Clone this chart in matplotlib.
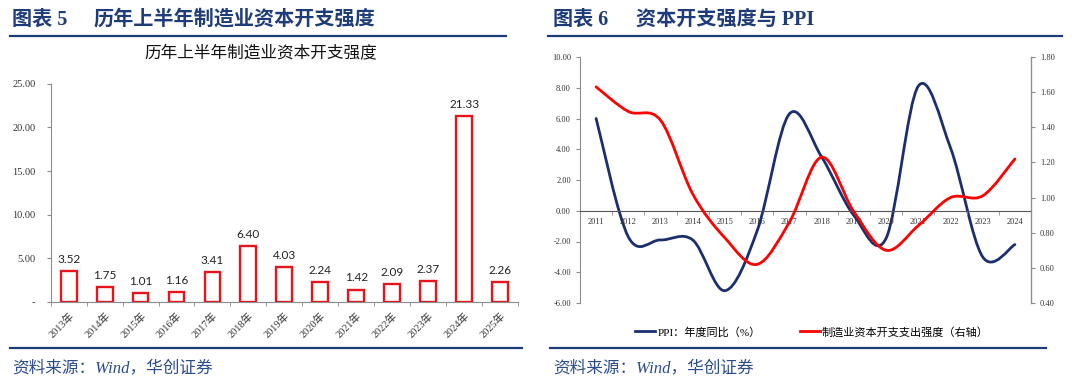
import numpy as np
import matplotlib.pyplot as plt
from matplotlib.path import Path
from matplotlib.patches import PathPatch
from matplotlib.lines import Line2D

plt.rcParams['font.family'] = ['Liberation Serif', 'Noto Sans CJK SC']

# left chart data
bar_years = ['2013年', '2014年', '2015年', '2016年', '2017年', '2018年', '2019年',
             '2020年', '2021年', '2022年', '2023年', '2024年', '2025年']
bar_values = [3.52, 1.75, 1.01, 1.16, 3.41, 6.40, 4.03, 2.24, 1.42, 2.09, 2.37, 21.33, 2.26]
bar_yticks = [0, 5, 10, 15, 20, 25]
bar_yticklabels = ['-', '5.00', '10.00', '15.00', '20.00', '25.00']

# right chart data
line_years = ['2011', '2012', '2013', '2014', '2015', '2016', '2017',
              '2018', '2019', '2020', '2021', '2022', '2023', '2024']
ppi = [6.0, -1.7, -1.9, -1.9, -5.2, -1.3, 6.3, 3.5, -0.3, -1.8, 8.1, 4.1, -3.0, -2.2]
capex = [1.63, 1.49, 1.44, 1.02, 0.77, 0.62, 0.86, 1.23, 0.92, 0.70, 0.84, 1.00, 1.01, 1.22]

NAVY = '#1b2f6e'
HEAD = '#1f3c7a'
GRAY = '#8c8c8c'


def smooth_path(x, y):
    # Excel-like smoothed line: cubic Bezier segments (Catmull-Rom control points)
    pts = np.column_stack([np.asarray(x, float), np.asarray(y, float)])
    ext = np.vstack([pts[0], pts, pts[-1]])
    verts = [pts[0]]
    codes = [Path.MOVETO]
    for i in range(len(pts) - 1):
        p0, p1, p2, p3 = ext[i], ext[i + 1], ext[i + 2], ext[i + 3]
        verts += [p1 + (p2 - p0) / 6, p2 - (p3 - p1) / 6, p2]
        codes += [Path.CURVE4] * 3
    return Path(verts, codes)


fig = plt.figure(figsize=(10.8, 3.86), dpi=100)

# headers, rules, sources
fig.text(12 / 1080, 1 - 20 / 386, '图表 5', fontsize=14.5, fontweight='bold', color=HEAD, va='center')
fig.text(94 / 1080, 1 - 20 / 386, '历年上半年制造业资本开支强度', fontsize=14.5, fontweight='bold',
         color=HEAD, va='center')
fig.text(553 / 1080, 1 - 20 / 386, '图表 6', fontsize=14.5, fontweight='bold', color=HEAD, va='center')
fig.text(636 / 1080, 1 - 20 / 386, '资本开支强度与 PPI', fontsize=14.5, fontweight='bold',
         color=HEAD, va='center')
for x0, x1 in [(10, 506), (548, 1062)]:
    fig.add_artist(Line2D([x0 / 1080, x1 / 1080], [1 - 36 / 386] * 2, color=HEAD, lw=1.6))
for x0, x1 in [(10, 522), (550, 1046)]:
    fig.add_artist(Line2D([x0 / 1080, x1 / 1080], [1 - 348 / 386] * 2, color=HEAD, lw=1.6))
fig.text(12 / 1080, 1 - 368 / 386, '资料来源：Wind，华创证券', fontsize=12, color='#2a4c8c',
         va='center', style='italic')
fig.text(553 / 1080, 1 - 368 / 386, '资料来源：Wind，华创证券', fontsize=12, color='#2a4c8c',
         va='center', style='italic')

# ---- left chart ----
ax1 = fig.add_axes([50.7 / 1080, 1 - 302 / 386, 467.3 / 1080, 218.3 / 386])
x = np.arange(len(bar_years))
ax1.bar(x, bar_values, width=0.44, facecolor='white', edgecolor='#e8141c', linewidth=1.7)
for xi, v in zip(x, bar_values):
    ax1.text(xi, v + 0.7, f'{v:.2f}', ha='center', va='bottom', fontsize=8.5,
             family='Lato', color='#222222')
ax1.set_xlim(-0.5, len(bar_years) - 0.5)
ax1.set_ylim(0, 25)
ax1.set_yticks(bar_yticks)
ax1.set_yticklabels(bar_yticklabels)
ax1.set_xticks(x)
ax1.set_xticklabels(bar_years, rotation=45, ha='right', rotation_mode='anchor')
ax1.set_xticks(np.arange(len(bar_years) + 1) - 0.5, minor=True)
ax1.tick_params(axis='x', which='major', length=0, pad=6, labelsize=7.5, labelcolor='#333333')
ax1.tick_params(axis='x', which='minor', length=3, color=GRAY)
ax1.tick_params(axis='y', length=3, color=GRAY, pad=8, labelsize=7.5, labelcolor='#333333')
for s in ['top', 'right']:
    ax1.spines[s].set_visible(False)
for s in ['left', 'bottom']:
    ax1.spines[s].set_color(GRAY)
fig.text(261 / 1080, 1 - 53 / 386, '历年上半年制造业资本开支强度', fontsize=12, ha='center',
         va='center', color='#111111')

# ---- right chart ----
ax2 = fig.add_axes([580 / 1080, 1 - 303 / 386, 451 / 1080, 246 / 386])
xl = np.arange(len(line_years))
ax2.set_xlim(-0.5, len(line_years) - 0.5)
ax2.set_xticks(xl)
ax2.set_xticklabels(line_years)
ax2.set_xticks(np.arange(len(line_years) + 1) - 0.5, minor=True)
ax2.tick_params(axis='x', which='major', length=0, pad=5, labelsize=6, labelcolor='#333333')
ax2.tick_params(axis='x', which='minor', length=3, color=GRAY)
ax3 = ax2.twinx()
ax2.add_patch(PathPatch(smooth_path(xl, ppi), fill=False, edgecolor=NAVY, lw=2.0,
                        capstyle='round'))
ax3.add_patch(PathPatch(smooth_path(xl, capex), fill=False, edgecolor='#ff0000', lw=2.0,
                        capstyle='round'))
ax2.set_ylim(-6, 10)
ax3.set_ylim(0.4, 1.8)
ax2.set_yticks(np.arange(-6, 11, 2))
ax2.yaxis.set_major_formatter(plt.FormatStrFormatter('%.2f'))
ax3.set_yticks(np.arange(0.4, 1.81, 0.2))
ax3.yaxis.set_major_formatter(plt.FormatStrFormatter('%.2f'))
ax2.tick_params(axis='y', labelsize=6, length=3, color=GRAY, labelcolor='#333333')
ax3.tick_params(axis='y', labelsize=6, length=3, color=GRAY, labelcolor='#333333')
ax2.spines['bottom'].set_position(('data', 0))
ax2.spines['bottom'].set_color('#555555')
ax2.spines['left'].set_color(GRAY)
ax3.spines['right'].set_color(GRAY)
for a in (ax2, ax3):
    a.spines['top'].set_visible(False)
ax3.spines['left'].set_visible(False)
ax3.spines['bottom'].set_visible(False)

handles = [Line2D([], [], color=NAVY, lw=2.0), Line2D([], [], color='#ff0000', lw=2.0)]
fig.legend(handles, ['PPI：年度同比（%）', '制造业资本开支支出强度（右轴）'],
           loc='center', bbox_to_anchor=(812 / 1080, 1 - 332 / 386), ncol=2, frameon=False,
           fontsize=8, handlelength=1.8, handletextpad=0.2, columnspacing=3.5)

fig.savefig('out.png', dpi=100)
